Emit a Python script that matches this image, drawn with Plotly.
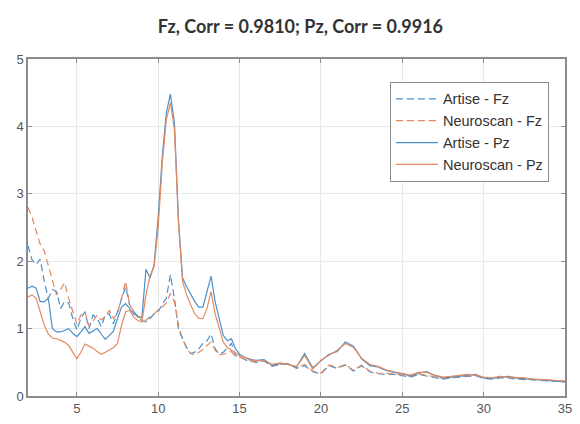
import plotly.graph_objects as go

freq = [2.0, 2.25, 2.5, 2.75, 3.0, 3.25, 3.5, 3.75, 4.0, 4.25, 4.5, 4.75,
        5.0, 5.25, 5.5, 5.75, 6.0, 6.25, 6.5, 6.75, 7.0, 7.25, 7.5, 7.75,
        8.0, 8.25, 8.5, 8.75, 9.0, 9.25, 9.5, 9.75, 10.0, 10.25, 10.5, 10.75,
        11.0, 11.25, 11.5, 11.75, 12.0, 12.25, 12.5, 12.75, 13.0, 13.25, 13.5, 13.75,
        14.0, 14.25, 14.5, 14.75, 15.0,
        15.5, 16.0, 16.5, 17.0, 17.5, 18.0, 18.5, 19.0, 19.5, 20.0,
        20.5, 21.0, 21.5, 22.0, 22.5, 23.0, 23.5, 24.0, 24.5, 25.0,
        25.5, 26.0, 26.5, 27.0, 27.5, 28.0, 28.5, 29.0, 29.5, 30.0,
        30.5, 31.0, 31.5, 32.0, 32.5, 33.0, 33.5, 34.0, 34.5, 35.0]

artise_fz = [2.23, 2.02, 1.95, 2.03, 1.70, 1.45, 1.58, 1.55, 1.30, 1.40, 1.38, 1.15,
             0.98, 1.15, 1.25, 1.00, 1.20, 1.15, 1.03, 1.20, 1.22, 1.07, 1.25, 1.45,
             1.62, 1.35, 1.25, 1.18, 1.12, 1.10, 1.15, 1.22, 1.25, 1.36, 1.45, 1.80,
             1.45, 0.98, 0.85, 0.72, 0.63, 0.65, 0.70, 0.78, 0.82, 0.92, 0.70, 0.62,
             0.65, 0.72, 0.78, 0.60, 0.58,
             0.52, 0.50, 0.52, 0.44, 0.47, 0.48, 0.41, 0.45, 0.36, 0.33,
             0.45, 0.41, 0.46, 0.37, 0.45, 0.36, 0.33, 0.33, 0.32, 0.30,
             0.28, 0.32, 0.30, 0.28, 0.25, 0.27, 0.28, 0.28, 0.30, 0.26,
             0.25, 0.27, 0.27, 0.25, 0.25, 0.24, 0.23, 0.23, 0.22, 0.21]

neuroscan_fz = [2.80, 2.65, 2.45, 2.25, 2.15, 1.92, 1.70, 1.50, 1.58, 1.68, 1.45, 1.25,
                1.07, 1.20, 1.25, 1.03, 1.12, 1.20, 1.13, 1.18, 1.27, 1.15, 1.22, 1.45,
                1.70, 1.35, 1.25, 1.17, 1.15, 1.12, 1.18, 1.22, 1.28, 1.32, 1.38, 1.52,
                1.40, 1.05, 0.85, 0.70, 0.63, 0.61, 0.65, 0.69, 0.75, 0.80, 0.68, 0.61,
                0.62, 0.64, 0.66, 0.59, 0.58,
                0.53, 0.51, 0.53, 0.45, 0.48, 0.47, 0.42, 0.47, 0.37, 0.34,
                0.46, 0.42, 0.47, 0.38, 0.46, 0.37, 0.34, 0.34, 0.33, 0.31,
                0.29, 0.33, 0.31, 0.29, 0.26, 0.28, 0.29, 0.29, 0.31, 0.27,
                0.26, 0.28, 0.28, 0.26, 0.26, 0.25, 0.24, 0.23, 0.22, 0.22]

artise_pz = [1.60, 1.63, 1.60, 1.40, 1.40, 1.45, 1.00, 0.95, 0.95, 0.97, 1.00, 0.93,
             0.88, 0.95, 1.03, 0.93, 0.97, 1.00, 0.92, 0.84, 0.90, 0.96, 1.15, 1.32,
             1.37, 1.30, 1.22, 1.18, 1.17, 1.88, 1.75, 1.95, 2.65, 3.55, 4.20, 4.48,
             4.05, 2.60, 1.75, 1.62, 1.50, 1.40, 1.32, 1.32, 1.55, 1.78, 1.40, 1.15,
             0.90, 0.82, 0.85, 0.70, 0.62,
             0.55, 0.53, 0.54, 0.46, 0.48, 0.47, 0.43, 0.63, 0.42, 0.52,
             0.62, 0.66, 0.80, 0.74, 0.55, 0.45, 0.43, 0.38, 0.35, 0.33,
             0.30, 0.34, 0.36, 0.30, 0.27, 0.28, 0.29, 0.31, 0.32, 0.27,
             0.26, 0.28, 0.29, 0.27, 0.26, 0.26, 0.24, 0.23, 0.22, 0.21]

neuroscan_pz = [1.47, 1.50, 1.45, 1.25, 1.05, 0.92, 0.86, 0.85, 0.82, 0.80, 0.75, 0.66,
                0.55, 0.65, 0.77, 0.74, 0.71, 0.66, 0.62, 0.65, 0.68, 0.72, 0.78, 1.05,
                1.25, 1.27, 1.17, 1.12, 1.10, 1.50, 1.78, 1.92, 2.50, 3.45, 4.10, 4.35,
                3.95, 2.55, 1.70, 1.50, 1.35, 1.22, 1.15, 1.15, 1.30, 1.55, 1.22, 1.00,
                0.80, 0.72, 0.68, 0.63, 0.60,
                0.56, 0.52, 0.53, 0.47, 0.49, 0.46, 0.44, 0.60, 0.40, 0.53,
                0.60, 0.68, 0.78, 0.72, 0.56, 0.47, 0.44, 0.39, 0.36, 0.34,
                0.31, 0.35, 0.35, 0.31, 0.28, 0.29, 0.30, 0.32, 0.31, 0.28,
                0.27, 0.29, 0.28, 0.28, 0.27, 0.25, 0.25, 0.24, 0.23, 0.22]

series_names = ["Artise - Fz", "Neuroscan - Fz", "Artise - Pz", "Neuroscan - Pz"]
title_text = "Fz, Corr = 0.9810; Pz, Corr = 0.9916"
x_ticks = [5, 10, 15, 20, 25, 30, 35]
y_ticks = [0, 1, 2, 3, 4, 5]

BLUE = "#4a90cc"
ORANGE = "#e38a60"

fig = go.Figure()
for name, vals, color, dash in [
    (series_names[0], artise_fz, BLUE, "7px,4px"),
    (series_names[1], neuroscan_fz, ORANGE, "7px,4px"),
    (series_names[2], artise_pz, BLUE, "solid"),
    (series_names[3], neuroscan_pz, ORANGE, "solid"),
]:
    fig.add_trace(go.Scatter(x=freq, y=vals, mode="lines", name=name,
                             line=dict(color=color, width=1.2, dash=dash)))

axis_common = dict(
    showline=True, linecolor="#8c8c8c", linewidth=1.5, mirror="ticks",
    ticks="inside", ticklen=4, tickcolor="#8c8c8c", tickwidth=1,
    showgrid=True, gridcolor="#e8e8e8", gridwidth=1, zeroline=False,
    tickfont=dict(family="Liberation Sans, Arial, sans-serif", size=13, color="#555555"),
)

fig.update_layout(
    width=580, height=424,
    margin=dict(l=28, r=8, t=59, b=24),
    paper_bgcolor="white", plot_bgcolor="white",
    title=dict(text="<b>" + title_text + "</b>", x=0.518, xanchor="center",
               y=0.936, yanchor="middle",
               font=dict(family="Lato, Open Sans, sans-serif", size=18, color="#333333")),
    xaxis=dict(range=[2, 35], tickvals=x_ticks, **axis_common),
    yaxis=dict(range=[0, 5], tickvals=y_ticks, **axis_common),
    legend=dict(x=0.674, y=0.932, xanchor="left", yanchor="top",
                bgcolor="white", bordercolor="#8c8c8c", borderwidth=1,
                font=dict(family="Liberation Sans, Arial, sans-serif", size=14.5, color="#333333"),
                tracegroupgap=0, itemwidth=42),
    showlegend=True,
)

fig.write_html("out.html")
